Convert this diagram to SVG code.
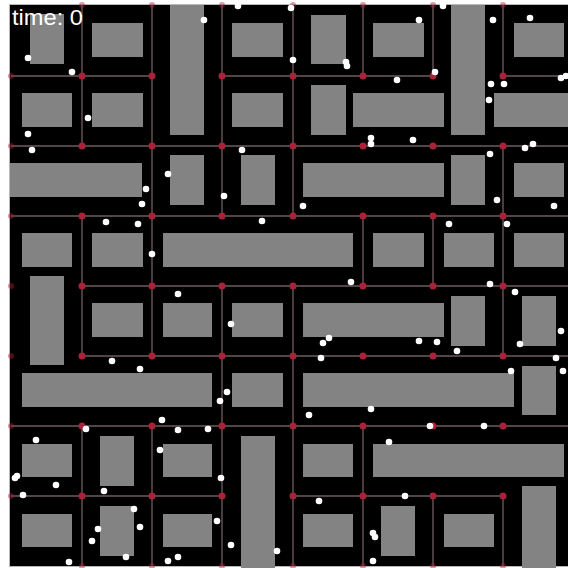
<svg xmlns="http://www.w3.org/2000/svg" width="568" height="568" viewBox="0 0 568 568">
<style>
.bg{fill:#000}
.blk{fill:#838383}
.road{fill:none;stroke:#6e5c60;stroke-width:1.3}
.node{fill:#a8233a}
.edge{fill:#a8233a;opacity:0.45}
.agent{fill:#fff}
.lbl{font-family:"Liberation Sans",Arial,sans-serif;font-size:22px;fill:#fff}
</style>
<rect width="568" height="568" fill="#fff"/>
<rect x="9" y="4" width="560" height="563" fill="#b8b8b8"/>
<rect class="bg" x="10" y="5" width="558" height="561"/>
<g id="blocks">
<rect class="blk" x="30" y="14" width="34" height="50"/>
<rect class="blk" x="92" y="23" width="51" height="34"/>
<rect class="blk" x="170" y="5" width="34" height="130"/>
<rect class="blk" x="232" y="23" width="51" height="34"/>
<rect class="blk" x="311" y="15" width="35" height="49"/>
<rect class="blk" x="373" y="23" width="51" height="34"/>
<rect class="blk" x="451" y="5" width="34" height="130"/>
<rect class="blk" x="514" y="23" width="50" height="34"/>
<rect class="blk" x="22" y="93" width="50" height="34"/>
<rect class="blk" x="92" y="93" width="51" height="34"/>
<rect class="blk" x="232" y="93" width="51" height="34"/>
<rect class="blk" x="311" y="85" width="35" height="50"/>
<rect class="blk" x="353" y="93" width="91" height="34"/>
<rect class="blk" x="494" y="93" width="74" height="34"/>
<rect class="blk" x="10" y="163" width="132" height="34"/>
<rect class="blk" x="170" y="155" width="34" height="50"/>
<rect class="blk" x="241" y="155" width="34" height="50"/>
<rect class="blk" x="303" y="163" width="141" height="34"/>
<rect class="blk" x="451" y="155" width="34" height="50"/>
<rect class="blk" x="514" y="163" width="50" height="34"/>
<rect class="blk" x="22" y="233" width="50" height="34"/>
<rect class="blk" x="92" y="233" width="51" height="34"/>
<rect class="blk" x="163" y="233" width="190" height="34"/>
<rect class="blk" x="373" y="233" width="51" height="34"/>
<rect class="blk" x="444" y="233" width="50" height="34"/>
<rect class="blk" x="514" y="233" width="50" height="34"/>
<rect class="blk" x="30" y="276" width="34" height="89"/>
<rect class="blk" x="92" y="303" width="51" height="34"/>
<rect class="blk" x="163" y="303" width="49" height="34"/>
<rect class="blk" x="232" y="303" width="51" height="34"/>
<rect class="blk" x="303" y="303" width="141" height="34"/>
<rect class="blk" x="451" y="296" width="34" height="50"/>
<rect class="blk" x="522" y="296" width="34" height="50"/>
<rect class="blk" x="22" y="373" width="190" height="34"/>
<rect class="blk" x="232" y="373" width="51" height="34"/>
<rect class="blk" x="303" y="373" width="211" height="34"/>
<rect class="blk" x="522" y="366" width="34" height="49"/>
<rect class="blk" x="22" y="444" width="50" height="33"/>
<rect class="blk" x="100" y="436" width="34" height="50"/>
<rect class="blk" x="163" y="444" width="49" height="33"/>
<rect class="blk" x="241" y="436" width="34" height="132"/>
<rect class="blk" x="303" y="444" width="50" height="33"/>
<rect class="blk" x="373" y="444" width="191" height="33"/>
<rect class="blk" x="22" y="514" width="50" height="33"/>
<rect class="blk" x="100" y="506" width="34" height="50"/>
<rect class="blk" x="163" y="514" width="49" height="33"/>
<rect class="blk" x="303" y="514" width="50" height="33"/>
<rect class="blk" x="381" y="506" width="34" height="50"/>
<rect class="blk" x="444" y="514" width="50" height="33"/>
<rect class="blk" x="522" y="486" width="34" height="82"/>
</g>
<g id="connectors">
<path class="road" d="M11 76H152M222 76H433M503 76H573M11 146H573M11 216H573M82 286H573M82 356H573M11 426H573M11 496H222M293 496H503"/>
<path class="road" d="M82 5V146M82 216V356M82 426V566M152 5V356M152 426V566M222 5V216M222 286V566M293 5V216M293 286V566M363 5V76M363 216V286M363 426V566M433 5V76M433 216V286M433 496V566M503 5V76M503 146V356M503 496V566"/>
</g>
<g id="nodes">
<g class="node">
<circle cx="82" cy="76" r="3.5"/><circle cx="152" cy="76" r="3.5"/><circle cx="222" cy="76" r="3.5"/><circle cx="293" cy="76" r="3.5"/><circle cx="363" cy="76" r="3.5"/><circle cx="433" cy="76" r="3.5"/><circle cx="503" cy="76" r="3.5"/>
<circle cx="82" cy="146" r="3.5"/><circle cx="152" cy="146" r="3.5"/><circle cx="222" cy="146" r="3.5"/><circle cx="293" cy="146" r="3.5"/><circle cx="363" cy="146" r="3.5"/><circle cx="433" cy="146" r="3.5"/><circle cx="503" cy="146" r="3.5"/>
<circle cx="82" cy="216" r="3.5"/><circle cx="152" cy="216" r="3.5"/><circle cx="222" cy="216" r="3.5"/><circle cx="293" cy="216" r="3.5"/><circle cx="363" cy="216" r="3.5"/><circle cx="433" cy="216" r="3.5"/><circle cx="503" cy="216" r="3.5"/>
<circle cx="82" cy="286" r="3.5"/><circle cx="152" cy="286" r="3.5"/><circle cx="222" cy="286" r="3.5"/><circle cx="293" cy="286" r="3.5"/><circle cx="363" cy="286" r="3.5"/><circle cx="433" cy="286" r="3.5"/><circle cx="503" cy="286" r="3.5"/>
<circle cx="82" cy="356" r="3.5"/><circle cx="152" cy="356" r="3.5"/><circle cx="222" cy="356" r="3.5"/><circle cx="293" cy="356" r="3.5"/><circle cx="363" cy="356" r="3.5"/><circle cx="433" cy="356" r="3.5"/><circle cx="503" cy="356" r="3.5"/>
<circle cx="82" cy="426" r="3.5"/><circle cx="152" cy="426" r="3.5"/><circle cx="222" cy="426" r="3.5"/><circle cx="293" cy="426" r="3.5"/><circle cx="363" cy="426" r="3.5"/><circle cx="433" cy="426" r="3.5"/><circle cx="503" cy="426" r="3.5"/>
<circle cx="82" cy="496" r="3.5"/><circle cx="152" cy="496" r="3.5"/><circle cx="222" cy="496" r="3.5"/><circle cx="293" cy="496" r="3.5"/><circle cx="363" cy="496" r="3.5"/><circle cx="433" cy="496" r="3.5"/><circle cx="503" cy="496" r="3.5"/>
</g>
<g class="edge">
<circle cx="82" cy="5" r="3"/><circle cx="152" cy="5" r="3"/><circle cx="222" cy="5" r="3"/><circle cx="293" cy="5" r="3"/><circle cx="363" cy="5" r="3"/><circle cx="433" cy="5" r="3"/><circle cx="503" cy="5" r="3"/>
<circle cx="82" cy="566" r="3"/><circle cx="152" cy="566" r="3"/><circle cx="222" cy="566" r="3"/><circle cx="293" cy="566" r="3"/><circle cx="363" cy="566" r="3"/><circle cx="433" cy="566" r="3"/><circle cx="503" cy="566" r="3"/>
<circle cx="11" cy="76" r="3"/><circle cx="11" cy="146" r="3"/><circle cx="11" cy="216" r="3"/><circle cx="11" cy="286" r="3"/><circle cx="11" cy="356" r="3"/><circle cx="11" cy="426" r="3"/><circle cx="11" cy="496" r="3"/>
</g>
</g>
<g id="agents" class="agent">
<circle cx="28" cy="58" r="3.3"/><circle cx="72" cy="72" r="3.3"/><circle cx="88" cy="118" r="3.3"/><circle cx="28" cy="134" r="3.3"/><circle cx="32" cy="150" r="3.3"/><circle cx="168" cy="174" r="3.3"/><circle cx="146" cy="189" r="3.3"/>
<circle cx="238" cy="6" r="3.3"/><circle cx="204" cy="20" r="3.3"/><circle cx="291" cy="8" r="3.3"/><circle cx="293" cy="60" r="3.3"/><circle cx="346" cy="62" r="3.3"/><circle cx="347" cy="66" r="3.3"/><circle cx="371" cy="138" r="3.3"/><circle cx="371" cy="144" r="3.3"/><circle cx="242" cy="150" r="3.3"/>
<circle cx="443" cy="6" r="3.3"/><circle cx="419" cy="20" r="3.3"/><circle cx="493" cy="20" r="3.3"/><circle cx="530" cy="18" r="3.3"/><circle cx="435" cy="72" r="3.3"/><circle cx="397" cy="80" r="3.3"/><circle cx="491" cy="84" r="3.3"/><circle cx="504" cy="84" r="3.3"/><circle cx="561" cy="78" r="3.3"/><circle cx="566" cy="76" r="3.3"/><circle cx="489" cy="100" r="3.3"/><circle cx="413" cy="140" r="3.3"/><circle cx="525" cy="148" r="3.3"/><circle cx="533" cy="144" r="3.3"/><circle cx="490" cy="154" r="3.3"/>
<circle cx="142" cy="204" r="3.3"/><circle cx="106" cy="222" r="3.3"/><circle cx="138" cy="224" r="3.3"/><circle cx="152" cy="254" r="3.3"/><circle cx="178" cy="294" r="3.3"/><circle cx="112" cy="361" r="3.3"/><circle cx="140" cy="369" r="3.3"/>
<circle cx="224" cy="196" r="3.3"/><circle cx="303" cy="206" r="3.3"/><circle cx="262" cy="221" r="3.3"/><circle cx="351" cy="282" r="3.3"/><circle cx="231" cy="324" r="3.3"/><circle cx="329" cy="338" r="3.3"/><circle cx="323" cy="343" r="3.3"/><circle cx="321" cy="358" r="3.3"/>
<circle cx="497" cy="200" r="3.3"/><circle cx="554" cy="206" r="3.3"/><circle cx="449" cy="224" r="3.3"/><circle cx="507" cy="224" r="3.3"/><circle cx="490" cy="284" r="3.3"/><circle cx="515" cy="292" r="3.3"/><circle cx="561" cy="331" r="3.3"/><circle cx="419" cy="341" r="3.3"/><circle cx="437" cy="342" r="3.3"/><circle cx="457" cy="351" r="3.3"/><circle cx="520" cy="344" r="3.3"/><circle cx="556" cy="358" r="3.3"/><circle cx="511" cy="371" r="3.3"/><circle cx="563" cy="371" r="3.3"/>
<circle cx="162" cy="420" r="3.3"/><circle cx="178" cy="430" r="3.3"/><circle cx="86" cy="429" r="3.3"/><circle cx="36" cy="440" r="3.3"/><circle cx="160" cy="450" r="3.3"/><circle cx="17" cy="476" r="3.3"/><circle cx="15" cy="478" r="3.3"/><circle cx="56" cy="485" r="3.3"/><circle cx="23" cy="495" r="3.3"/><circle cx="104" cy="491" r="3.3"/><circle cx="134" cy="509" r="3.3"/><circle cx="98" cy="529" r="3.3"/><circle cx="140" cy="527" r="3.3"/><circle cx="92" cy="541" r="3.3"/><circle cx="126" cy="557" r="3.3"/><circle cx="69" cy="562" r="3.3"/><circle cx="168" cy="561" r="3.3"/><circle cx="178" cy="557" r="3.3"/>
<circle cx="227" cy="392" r="3.3"/><circle cx="220" cy="401" r="3.3"/><circle cx="309" cy="415" r="3.3"/><circle cx="371" cy="409" r="3.3"/><circle cx="208" cy="429" r="3.3"/><circle cx="221" cy="478" r="3.3"/><circle cx="319" cy="501" r="3.3"/><circle cx="217" cy="521" r="3.3"/><circle cx="231" cy="545" r="3.3"/><circle cx="277" cy="551" r="3.3"/><circle cx="373" cy="533" r="3.3"/><circle cx="375" cy="537" r="3.3"/><circle cx="373" cy="561" r="3.3"/>
<circle cx="430" cy="426" r="3.3"/><circle cx="484" cy="426" r="3.3"/><circle cx="389" cy="442" r="3.3"/><circle cx="405" cy="496" r="3.3"/>
</g>
<text class="lbl" x="12" y="25" textLength="71" lengthAdjust="spacingAndGlyphs">time: 0</text>
</svg>
